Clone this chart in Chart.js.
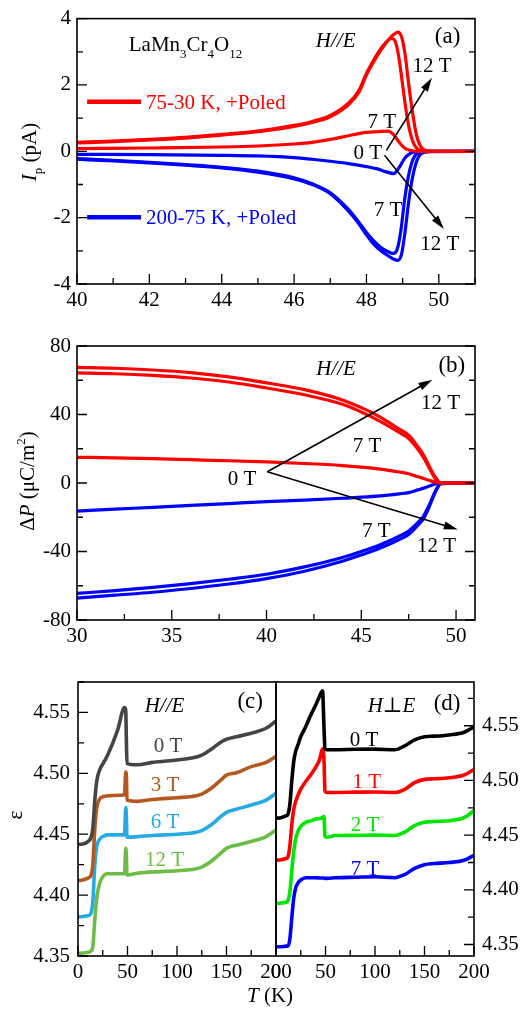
<!DOCTYPE html>
<html lang="en">
<head>
<meta charset="UTF-8">
<title>LaMn3Cr4O12 – Ip, ΔP and ε</title>
<script src="https://cdn.jsdelivr.net/npm/chart.js"></script>
<style>
body{margin:0;background:#fff}
#wrap{position:relative;width:530px;height:1012px;overflow:hidden;background:#fff}
#wrap canvas{position:absolute}
</style>
</head>
<body>
<div id="wrap">
<canvas id="pa" width="530" height="320" style="left:0;top:0"></canvas>
<canvas id="pb" width="530" height="340" style="left:0;top:320px"></canvas>
<canvas id="pc" width="300" height="352" style="left:0;top:660px"></canvas>
<canvas id="pd" width="280" height="352" style="left:250px;top:660px"></canvas>
</div>
<script>
const FONT='"Liberation Serif","DejaVu Serif",serif';
const RED='#ff0000', BLUE='#0000ff';

// (a) pyroelectric current Ip (pA) vs T (K)
const a_T_red0=[40,42,44,45,46,46.5,47,47.5,48,48.3,48.6,48.75,48.9,49.05,49.2,49.4,51];
const a_I_red0=[0.08,0.1,0.13,0.16,0.22,0.27,0.36,0.47,0.57,0.59,0.61,0.5,0.28,0.1,0.03,0,0];
const a_T_red7=[40,41,42,43,44,45,46,46.5,47,47.5,47.8,48,48.2,48.4,48.55,48.7,48.8,48.9,49.0,49.1,49.2,49.3,49.4,49.55,49.8,51];
const a_I_red7=[0.27,0.31,0.36,0.42,0.51,0.61,0.78,0.9,1.08,1.45,1.85,2.35,2.75,3.1,3.3,3.4,3.3,2.8,2.0,1.2,0.6,0.25,0.08,0.02,0,0];
const a_T_red12=[40,41,42,43,44,45,46,46.5,47,47.5,47.8,48,48.2,48.4,48.6,48.75,48.87,48.97,49.07,49.17,49.27,49.37,49.47,49.57,49.7,50,51];
const a_I_red12=[0.25,0.29,0.34,0.4,0.49,0.59,0.75,0.87,1.04,1.4,1.8,2.3,2.7,3.05,3.35,3.52,3.59,3.45,2.9,2.0,1.2,0.55,0.2,0.06,0.01,0,0];
const a_T_blue0=[40,42,44,45,46,46.5,47,47.5,48,48.3,48.55,48.75,48.9,49.05,49.2,49.4,51];
const a_I_blue0=[-0.09,-0.1,-0.12,-0.14,-0.19,-0.24,-0.3,-0.37,-0.46,-0.53,-0.62,-0.67,-0.5,-0.22,-0.07,-0.01,0];
const a_T_blue7=[40,41,42,43,44,45,46,46.5,47,47.5,47.8,48,48.2,48.4,48.6,48.74,48.85,48.95,49.05,49.15,49.25,49.35,49.5,49.7,51];
const a_I_blue7=[-0.22,-0.27,-0.33,-0.4,-0.48,-0.6,-0.8,-0.98,-1.25,-1.75,-2.15,-2.45,-2.7,-2.9,-3.03,-3.08,-2.95,-2.4,-1.5,-0.8,-0.35,-0.12,-0.03,0,0];
const a_T_blue12=[40,41,42,43,44,45,46,46.5,47,47.5,47.8,48,48.2,48.4,48.6,48.75,48.86,48.97,49.07,49.17,49.27,49.37,49.47,49.6,49.8,51];
const a_I_blue12=[-0.24,-0.29,-0.35,-0.42,-0.5,-0.63,-0.83,-1.0,-1.28,-1.8,-2.2,-2.52,-2.8,-3.0,-3.15,-3.25,-3.29,-3.1,-2.4,-1.5,-0.8,-0.35,-0.12,-0.03,0,0];

// (b) ΔP (μC/m2) vs T (K)
const b_T=[30,32,34,36,38,40,42,44,45,46,47,47.5,48,48.3,48.6,48.9,49.2,51];
const b_P_red0=[15,14.7,14.2,13.6,13,12.3,11.4,10.2,9.3,8.1,6.4,5.4,3.6,2.6,1.5,0.5,0,0];
const b_P_red7=[64.3,63.8,62.8,61.3,59,55.5,51.5,46,41.5,36,29.5,26,19.5,14.5,8.5,2.5,0,0];
const b_P_red12=[67.5,67,66,64.5,62,58.5,54.5,48.5,44,38.5,31.5,28,21,16,9.5,3.5,0,0];
const b_P_blue0=[-16.4,-15.3,-14.2,-13.1,-12,-10.9,-10,-8.9,-8.3,-7.5,-6.3,-5.6,-4,-3,-1.8,-0.6,0,0];
const b_P_blue7=[-64.5,-62.8,-61,-58.8,-56.2,-53.3,-49,-43.5,-40,-36,-31,-28,-23,-19,-12.5,-5,0,0];
const b_P_blue12=[-67.2,-65.5,-63.8,-61.6,-59,-55.8,-51.5,-45.7,-42,-38,-33,-30,-24.5,-20.5,-13.5,-5.5,-0.5,0];

// (c) ε vs T, H//E
const c_T=[0,5,10,13,15,17,19,22,26,30,40,47,48.2,48.8,49.5,60,75,100,115,125,135,145,150,160,175,190,200];
const c_E_0T=[4.4418,4.442,4.444,4.447,4.455,4.478,4.494,4.503,4.509,4.515,4.5355,4.554,4.552,4.53,4.508,4.507,4.509,4.511,4.5125,4.515,4.52,4.526,4.528,4.53,4.533,4.537,4.543];
const c_E_3T=[4.412,4.4125,4.414,4.416,4.425,4.455,4.472,4.479,4.481,4.4815,4.482,4.4825,4.501,4.499,4.478,4.477,4.4785,4.48,4.481,4.483,4.488,4.495,4.4985,4.5005,4.5055,4.509,4.514];
const c_E_6T=[4.382,4.3825,4.383,4.385,4.395,4.425,4.44,4.446,4.4485,4.4495,4.4495,4.4495,4.472,4.466,4.4475,4.448,4.449,4.45,4.451,4.453,4.458,4.465,4.468,4.4705,4.474,4.478,4.4836];
const c_E_12T=[4.352,4.3525,4.353,4.354,4.358,4.38,4.398,4.41,4.416,4.4175,4.4175,4.4175,4.4385,4.433,4.4165,4.418,4.419,4.42,4.421,4.423,4.428,4.435,4.4385,4.441,4.444,4.448,4.4535];

// (d) ε vs T, H⊥E
const d_T=[0,5,10,12,14,16,18,20,22,25,30,35,40,44,47,48.5,49.5,51,60,80,100,120,130,140,150,160,175,190,200];
const d_E_0T=[4.4654,4.466,4.4675,4.469,4.478,4.5,4.518,4.527,4.532,4.54,4.549,4.5596,4.5687,4.577,4.582,4.548,4.529,4.528,4.528,4.5285,4.5286,4.528,4.5316,4.537,4.54,4.5405,4.5416,4.544,4.549];
const d_E_1T=[4.427,4.4275,4.4286,4.43,4.44,4.46,4.474,4.481,4.486,4.492,4.499,4.505,4.512,4.519,4.529,4.518,4.49,4.489,4.489,4.4893,4.4895,4.489,4.4919,4.498,4.501,4.5015,4.5024,4.505,4.51];
const d_E_2T=[4.3874,4.388,4.3886,4.39,4.398,4.418,4.436,4.447,4.453,4.458,4.4617,4.463,4.4648,4.4652,4.466,4.467,4.449,4.448,4.4497,4.4498,4.45,4.4497,4.4527,4.4587,4.4617,4.4625,4.4632,4.466,4.4723];
const d_E_7T=[4.348,4.348,4.3485,4.3485,4.355,4.375,4.393,4.402,4.406,4.409,4.4111,4.411,4.411,4.4108,4.4108,4.4108,4.4105,4.4105,4.411,4.4115,4.412,4.4111,4.414,4.4196,4.423,4.424,4.425,4.427,4.4316];

const C_GRAY='#454545', C_BROWN='#b4581f', C_SKY='#27aae1', C_LIME='#6cbd45', C_GREEN='#00e600';

function line(xs,ys,color,w){
  return {data:xs.map((x,i)=>({x,y:ys[i]})),borderColor:color,borderWidth:w||3.2,showLine:true,
    pointRadius:0,cubicInterpolationMode:'monotone',fill:false};
}

function axis(pos,min,max,step,size,pad,fmt){
  return {type:'linear',position:pos,min,max,
    grid:{display:false,drawTicks:false},border:{display:false},
    ticks:{stepSize:step,includeBounds:false,autoSkip:false,maxRotation:0,padding:pad,color:'#000',
      font:{family:FONT,size:21},callback:fmt||(v=>String(v))},
    afterFit:s=>{ if(pos==='bottom') s.height=size; else s.width=size; }};
}

function fontOf(p,size){
  const s=(p.sub||p.sup)?Math.round(size*0.62):size;
  return (p.it?'italic ':'')+s+'px '+FONT;
}
function richWidth(ctx,parts,size){
  let w=0;
  parts.forEach(p=>{ctx.font=fontOf(p,size);w+=ctx.measureText(p.t).width;});
  return w;
}
function drawRich(ctx,x,y,parts,size,color){
  let cx=x;
  ctx.fillStyle=color;ctx.textAlign='left';ctx.textBaseline='alphabetic';
  parts.forEach(p=>{
    ctx.font=fontOf(p,size);
    const dy=p.sub?size*0.3:p.sup?-size*0.42:0;
    ctx.fillText(p.t,cx,y+dy);
    cx+=ctx.measureText(p.t).width;
  });
}
function steps(min,max,st){
  const out=[];
  for(let k=Math.ceil(min/st-1e-7);k*st<=max+1e-9;k++) out.push(k*st);
  return out;
}
const isMajor=(v,m)=>Math.abs(v/m-Math.round(v/m))<1e-6;

function arrow(ctx,x1,y1,x2,y2){
  const ang=Math.atan2(y2-y1,x2-x1), L=14, W=4;
  ctx.beginPath();ctx.moveTo(x1,y1);ctx.lineTo(x2-Math.cos(ang)*L*0.8,y2-Math.sin(ang)*L*0.8);ctx.stroke();
  ctx.beginPath();
  ctx.moveTo(x2,y2);
  ctx.lineTo(x2-L*Math.cos(ang)+W*Math.sin(ang),y2-L*Math.sin(ang)-W*Math.cos(ang));
  ctx.lineTo(x2-L*Math.cos(ang)-W*Math.sin(ang),y2-L*Math.sin(ang)+W*Math.cos(ang));
  ctx.closePath();ctx.fill();
}

function decor(cfg){
  return {id:'decor',afterDatasetsDraw(chart){
    const ctx=chart.ctx,a=chart.chartArea,xs=chart.scales.x,ys=chart.scales.y;
    const X=v=>xs.getPixelForValue(v), Y=v=>ys.getPixelForValue(v);
    ctx.save();
    (cfg.lines||[]).forEach(l=>{
      ctx.strokeStyle=l.color;ctx.lineWidth=4.5;ctx.lineCap='butt';
      ctx.beginPath();ctx.moveTo(X(l.from[0]),Y(l.from[1]));ctx.lineTo(X(l.to[0]),Y(l.to[1]));ctx.stroke();
    });
    ctx.strokeStyle='#000';ctx.fillStyle='#000';ctx.lineWidth=1.6;
    (cfg.arrows||[]).forEach(r=>arrow(ctx,X(r.from[0]),Y(r.from[1]),X(r.to[0]),Y(r.to[1])));
    // frame and inward ticks
    ctx.lineWidth=1.6;
    ctx.strokeRect(a.left,a.top,a.right-a.left,a.bottom-a.top);
    const f=cfg.ticks;
    ctx.lineWidth=1.3;ctx.beginPath();
    steps(xs.min,xs.max,f.xMinor).forEach(v=>{
      const p=X(v),L=isMajor(v,f.xMajor)?10:6;
      ctx.moveTo(p,a.bottom);ctx.lineTo(p,a.bottom-L);
    });
    steps(ys.min,ys.max,f.yMinor).forEach(v=>{
      const p=Y(v),L=isMajor(v,f.yMajor)?10:6;
      if(f.left){ctx.moveTo(a.left,p);ctx.lineTo(a.left+L,p);}
      if(f.right){ctx.moveTo(a.right,p);ctx.lineTo(a.right-L,p);}
    });
    ctx.stroke();
    (cfg.texts||[]).forEach(t=>{
      drawRich(ctx,X(t.x),Y(t.y),t.parts,t.size||21,t.color||'#000');
    });
    (cfg.titles||[]).forEach(t=>{
      const size=t.size||21,w=richWidth(ctx,t.parts,size);
      ctx.save();ctx.translate(t.px,t.py);
      if(t.rot) ctx.rotate(-Math.PI/2);
      drawRich(ctx,-w/2,0,t.parts,size,'#000');
      ctx.restore();
    });
    ctx.restore();
  }};
}

function makeChart(id,datasets,scales,pad,cfg){
  return new Chart(document.getElementById(id),{type:'scatter',data:{datasets},
    options:{responsive:false,animation:false,events:[],layout:{padding:pad},
      plugins:{legend:{display:false},tooltip:{enabled:false}},scales},
    plugins:[decor(cfg)]});
}
const txt=(s,o)=>Object.assign({parts:[{t:s}]},o);
const f2=v=>v.toFixed(2);

makeChart('pa',[
  line(a_T_red0,a_I_red0,RED),line(a_T_red7,a_I_red7,RED),line(a_T_red12,a_I_red12,RED),
  line(a_T_blue0,a_I_blue0,BLUE),line(a_T_blue7,a_I_blue7,BLUE),line(a_T_blue12,a_I_blue12,BLUE)
],{x:axis('bottom',40,51,2,36,4),y:axis('left',-4,4,2,77,6)},{left:0,top:11,right:55,bottom:0},{
  ticks:{xMajor:2,xMinor:1,yMajor:2,yMinor:1,left:true,right:true},
  lines:[{from:[40.28,1.49],to:[41.77,1.49],color:RED},{from:[40.28,-1.99],to:[41.77,-1.99],color:BLUE}],
  arrows:[{from:[48.55,0.03],to:[49.81,2.22]},{from:[48.5,-0.12],to:[50.14,-2.34]}],
  texts:[
    {x:41.43,y:3.01,parts:[{t:'LaMn'},{t:'3',sub:1},{t:'Cr'},{t:'4',sub:1},{t:'O'},{t:'12',sub:1}]},
    {x:46.6,y:3.13,parts:[{t:'H//E',it:1}]},
    txt('(a)',{x:49.89,y:3.25,size:23}),
    txt('12 T',{x:49.27,y:2.40}),txt('7 T',{x:48.03,y:0.70}),txt('0 T',{x:47.64,y:-0.22}),
    txt('7 T',{x:48.2,y:-1.96}),txt('12 T',{x:49.49,y:-2.98}),
    txt('75-30 K, +Poled',{x:41.91,y:1.26,color:RED}),
    txt('200-75 K, +Poled',{x:41.91,y:-2.18,color:BLUE})
  ],
  titles:[{px:36,py:152,rot:true,parts:[{t:'I',it:1},{t:'p',sub:1},{t:' (pA)'}]}]
});

makeChart('pb',[
  line(b_T,b_P_red0,RED),line(b_T,b_P_red7,RED),line(b_T,b_P_red12,RED),
  line(b_T,b_P_blue0,BLUE),line(b_T,b_P_blue7,BLUE),line(b_T,b_P_blue12,BLUE)
],{x:axis('bottom',30,51,5,40,4),y:axis('left',-80,80,40,77,6)},{left:0,top:26,right:55,bottom:0},{
  ticks:{xMajor:5,xMinor:2.5,yMajor:40,yMinor:20,left:true,right:true},
  arrows:[{from:[40.04,6.6],to:[48.75,60.3]},{from:[40.04,6.6],to:[50.09,-27.1]}],
  texts:[
    {x:42.62,y:62.9,parts:[{t:'H//E',it:1}]},
    txt('(b)',{x:49.07,y:64.9,size:23}),
    txt('12 T',{x:48.15,y:43.5}),txt('7 T',{x:44.55,y:18.3}),txt('0 T',{x:37.95,y:-1.2}),
    txt('7 T',{x:45.04,y:-31.3}),txt('12 T',{x:47.94,y:-40})
  ],
  titles:[{px:34,py:161,rot:true,parts:[{t:'Δ'},{t:'P',it:1},{t:' (μC/m'},{t:'2',sup:1},{t:')'}]}]
});

makeChart('pc',[
  line(c_T,c_E_0T,C_GRAY,3.6),line(c_T,c_E_3T,C_BROWN,3.6),line(c_T,c_E_6T,C_SKY,3.6),line(c_T,c_E_12T,C_LIME,3.6)
],{x:axis('bottom',0,200,50,56,4),y:axis('left',4.35,4.575,0.05,78,8,f2)},{left:0,top:22,right:24,bottom:0},{
  ticks:{xMajor:50,xMinor:25,yMajor:0.05,yMinor:0.025,left:true,right:false},
  texts:[
    {x:67.3,y:4.5505,parts:[{t:'H//E',it:1}]},
    txt('(c)',{x:161,y:4.5533,size:23}),
    txt('0 T',{x:76.5,y:4.5177,color:C_GRAY}),txt('3 T',{x:73.5,y:4.4855,color:C_BROWN}),
    txt('6 T',{x:73.5,y:4.4549,color:C_SKY}),txt('12 T',{x:67.7,y:4.424,color:C_LIME})
  ],
  titles:[{px:22,py:155,rot:true,parts:[{t:'ε'}]},{px:270,py:342,parts:[{t:'T',it:1},{t:' (K)'}]}]
});

makeChart('pd',[
  line(d_T,d_E_0T,'#000',3.6),line(d_T,d_E_1T,RED,3.6),line(d_T,d_E_2T,C_GREEN,3.6),line(d_T,d_E_7T,BLUE,3.6)
],{x:axis('bottom',0,200,50,56,4),y:axis('right',4.3395,4.59,0.05,56,8,f2)},{left:26,top:22,right:0,bottom:0},{
  ticks:{xMajor:50,xMinor:25,yMajor:0.05,yMinor:0.025,left:false,right:true},
  texts:[
    {x:92.6,y:4.5628,parts:[{t:'H⊥E',it:1}]},
    txt('(d)',{x:159.3,y:4.5643,size:23}),
    txt('0 T',{x:74.5,y:4.5315,color:'#000'}),txt('1 T',{x:77.3,y:4.4929,color:RED}),
    txt('2 T',{x:75.6,y:4.454,color:C_GREEN}),txt('7 T',{x:75.6,y:4.4132,color:BLUE})
  ]
});
</script>
</body>
</html>
